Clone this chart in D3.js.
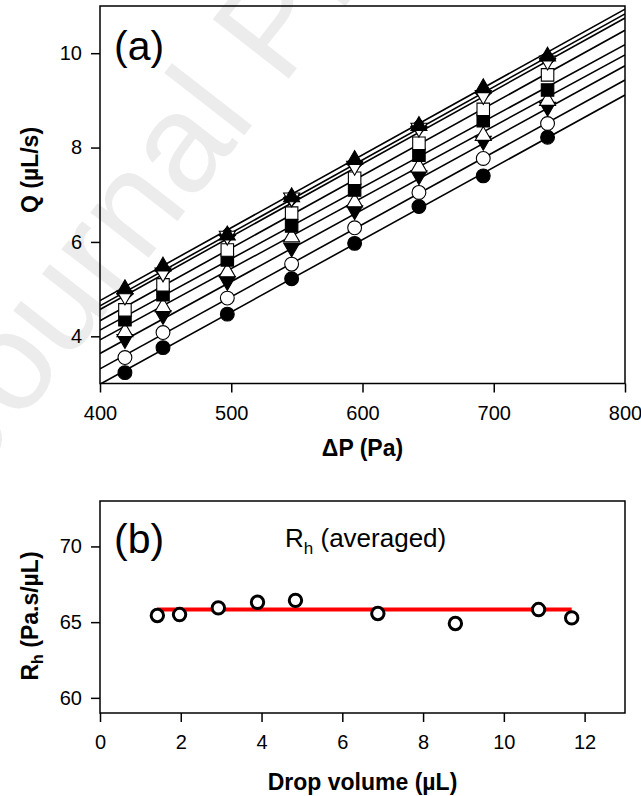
<!DOCTYPE html>
<html>
<head>
<meta charset="utf-8">
<script src="https://cdn.jsdelivr.net/npm/d3@7"></script>
<style>
body { margin: 0; background: #fff; }
text { font-family: "Liberation Sans", Arial, sans-serif; }
</style>
</head>
<body>
<div id="chart"></div>
<script>
// panel (a): flow rate vs pressure drop
const dP = [419, 448, 497, 546, 594, 643, 692, 741];
const qFilledCircle  = [3.23, 3.76, 4.47, 5.22, 5.97, 6.75, 7.40, 8.22];
const qOpenCircle    = [3.55, 4.08, 4.81, 5.53, 6.30, 7.05, 7.77, 8.51];
const qFilledTriDown = [3.89, 4.40, 5.12, 5.83, 6.62, 7.36, 8.09, 8.81];
const qOpenTriUp     = [4.14, 4.67, 5.41, 6.15, 6.89, 7.63, 8.30, 9.04];
const qFilledSquare  = [4.35, 4.88, 5.62, 6.34, 7.10, 7.84, 8.57, 9.22];
const qOpenSquare    = [4.56, 5.09, 5.83, 6.61, 7.35, 8.09, 8.81, 9.54];
const qFilledDiamond = [4.90, 5.40, 6.14, 6.93, 7.66, 8.44, 9.16, 9.88];
const qOpenTriDown   = [4.81, 5.30, 6.08, 6.89, 7.56, 8.37, 9.06, 9.79];
const qFilledTriUp   = [5.05, 5.53, 6.19, 7.00, 7.79, 8.51, 9.31, 9.98];
const dPTicks = [400, 500, 600, 700, 800];
const qTicks = [4, 6, 8, 10];

// panel (b): hydraulic resistance vs drop volume
const dropVolume = [1.42, 1.97, 2.93, 3.90, 4.84, 6.88, 8.80, 10.86, 11.68];
const rh = [65.44, 65.50, 65.94, 66.31, 66.44, 65.57, 64.91, 65.83, 65.28];
const rhAverage = 65.83;
const volTicks = [0, 2, 4, 6, 8, 10, 12];
const rhTicks = [60, 65, 70];

const font = '"Liberation Sans", Arial, sans-serif';

// marker shapes
function tri(up) {
  return {
    draw: function(ctx, size) {
      const s = Math.sqrt(size), h = s * 0.866, k = up ? 1 : -1;
      ctx.moveTo(0, -k * h / 2);
      ctx.lineTo(s / 2, k * h / 2);
      ctx.lineTo(-s / 2, k * h / 2);
      ctx.closePath();
    }
  };
}
const diamond = {
  draw: function(ctx, size) {
    const r = Math.sqrt(size) / 2;
    ctx.moveTo(0, -r); ctx.lineTo(r, 0); ctx.lineTo(0, r); ctx.lineTo(-r, 0);
    ctx.closePath();
  }
};

const series = [
  {values: qFilledCircle,  type: d3.symbolCircle, size: 150, fill: 'black'},
  {values: qOpenCircle,    type: d3.symbolCircle, size: 150, fill: 'white'},
  {values: qFilledTriDown, type: tri(false),      size: 256, fill: 'black'},
  {values: qOpenTriUp,     type: tri(true),       size: 256, fill: 'white'},
  {values: qFilledSquare,  type: d3.symbolSquare, size: 156, fill: 'black'},
  {values: qOpenSquare,    type: d3.symbolSquare, size: 156, fill: 'white'},
  {values: qFilledDiamond, type: diamond,         size: 272, fill: 'black'},
  {values: qOpenTriDown,   type: tri(false),      size: 256, fill: 'white'},
  {values: qFilledTriUp,   type: tri(true),       size: 256, fill: 'black'}
];

// least squares line for each series
function fit(xs, ys) {
  const mx = d3.mean(xs), my = d3.mean(ys);
  let sxy = 0, sxx = 0;
  xs.forEach(function(v, i) { sxy += (v - mx) * (ys[i] - my); sxx += (v - mx) * (v - mx); });
  const b = sxy / sxx;
  return function(v) { return my + b * (v - mx); };
}

const svg = d3.select('#chart').append('svg')
  .attr('width', 641)
  .attr('height', 796);

// faint watermark of the source page
svg.append('text')
  .attr('transform', 'translate(-25,480) rotate(-52)')
  .attr('font-size', 140)
  .attr('fill', '#ececec')
  .text('Journal Pre-proof');

// ---------- panel (a)
const A = {left: 100, top: 6, width: 525, height: 377.5};
const x = d3.scaleLinear().domain([400, 800]).range([A.left, A.left + A.width]);
const y = d3.scaleLinear().domain([3, 11]).range([A.top + A.height, A.top]);

svg.append('clipPath').attr('id', 'clipA')
  .append('rect')
  .attr('x', A.left).attr('y', A.top)
  .attr('width', A.width).attr('height', A.height);

const line = d3.line().x(function(d) { return x(d[0]); }).y(function(d) { return y(d[1]); });

const gLines = svg.append('g').attr('clip-path', 'url(#clipA)');
series.forEach(function(s) {
  const f = fit(dP, s.values);
  gLines.append('path')
    .attr('d', line([[400, f(400)], [800, f(800)]]))
    .attr('fill', 'none')
    .attr('stroke', 'black')
    .attr('stroke-width', 1.6);
});

series.forEach(function(s) {
  svg.append('g').selectAll('path')
    .data(s.values)
    .enter()
    .append('path')
    .attr('transform', function(d, i) { return 'translate(' + x(dP[i]) + ',' + y(d) + ')'; })
    .attr('d', d3.symbol().type(s.type).size(s.size))
    .attr('fill', s.fill)
    .attr('stroke', 'black')
    .attr('stroke-width', 1.1);
});

function styleAxis(g) {
  g.select('.domain').remove();
  g.selectAll('.tick line').attr('stroke', 'black').attr('stroke-width', 1.5);
  g.selectAll('.tick text').attr('font-family', font).attr('font-size', 20).attr('fill', 'black');
}

svg.append('g')
  .attr('transform', 'translate(0,' + (A.top + A.height) + ')')
  .call(d3.axisBottom(x).tickValues(dPTicks).tickSize(9).tickPadding(13))
  .call(styleAxis);

svg.append('g')
  .attr('transform', 'translate(' + A.left + ',0)')
  .call(d3.axisLeft(y).tickValues(qTicks).tickSize(9).tickPadding(9))
  .call(styleAxis);

svg.append('rect')
  .attr('x', A.left).attr('y', A.top)
  .attr('width', A.width).attr('height', A.height)
  .attr('fill', 'none').attr('stroke', 'black').attr('stroke-width', 1.5);

svg.append('text')
  .attr('x', 114).attr('y', 60)
  .attr('font-size', 41)
  .text('(a)');

svg.append('text')
  .attr('x', x(600)).attr('y', 456)
  .attr('text-anchor', 'middle')
  .attr('font-size', 23).attr('font-weight', 'bold')
  .text('\u0394P (Pa)');

svg.append('text')
  .attr('transform', 'translate(38,170) rotate(-90)')
  .attr('text-anchor', 'middle')
  .attr('font-size', 23).attr('font-weight', 'bold')
  .text('Q (\u00b5L/s)');

// ---------- panel (b)
const B = {left: 100, top: 501, width: 525, height: 212};
const x2 = d3.scaleLinear().domain([0, 13]).range([B.left, B.left + B.width]);
const y2 = d3.scaleLinear().domain([59, 73]).range([B.top + B.height, B.top]);

svg.append('g')
  .attr('transform', 'translate(0,' + (B.top + B.height) + ')')
  .call(d3.axisBottom(x2).tickValues(volTicks).tickSize(9).tickPadding(13))
  .call(styleAxis);

svg.append('g')
  .attr('transform', 'translate(' + B.left + ',0)')
  .call(d3.axisLeft(y2).tickValues(rhTicks).tickSize(9).tickPadding(9))
  .call(styleAxis);

svg.append('rect')
  .attr('x', B.left).attr('y', B.top)
  .attr('width', B.width).attr('height', B.height)
  .attr('fill', 'none').attr('stroke', 'black').attr('stroke-width', 1.5);

svg.append('line')
  .attr('x1', x2(d3.min(dropVolume))).attr('x2', x2(d3.max(dropVolume)))
  .attr('y1', y2(rhAverage)).attr('y2', y2(rhAverage))
  .attr('stroke', '#ff0000').attr('stroke-width', 4);

svg.append('g').selectAll('circle')
  .data(rh)
  .enter()
  .append('circle')
  .attr('cx', function(d, i) { return x2(dropVolume[i]); })
  .attr('cy', function(d) { return y2(d); })
  .attr('r', 6.2)
  .attr('fill', 'white')
  .attr('stroke', 'black')
  .attr('stroke-width', 3);

svg.append('text')
  .attr('x', 114).attr('y', 553)
  .attr('font-size', 41)
  .text('(b)');

const avg = svg.append('text')
  .attr('x', 285).attr('y', 547)
  .attr('font-size', 26);
avg.append('tspan').text('R');
avg.append('tspan').attr('font-size', 17).attr('dy', 7).text('h');
avg.append('tspan').attr('dy', -7).text(' (averaged)');

svg.append('text')
  .attr('x', x2(6.5)).attr('y', 790)
  .attr('text-anchor', 'middle')
  .attr('font-size', 23).attr('font-weight', 'bold')
  .text('Drop volume (\u00b5L)');

const yt = svg.append('text')
  .attr('transform', 'translate(38,616) rotate(-90)')
  .attr('text-anchor', 'middle')
  .attr('font-size', 23).attr('font-weight', 'bold');
yt.append('tspan').text('R');
yt.append('tspan').attr('font-size', 16).attr('dy', 5).text('h');
yt.append('tspan').attr('dy', -5).text(' (Pa.s/\u00b5L)');
</script>
</body>
</html>
